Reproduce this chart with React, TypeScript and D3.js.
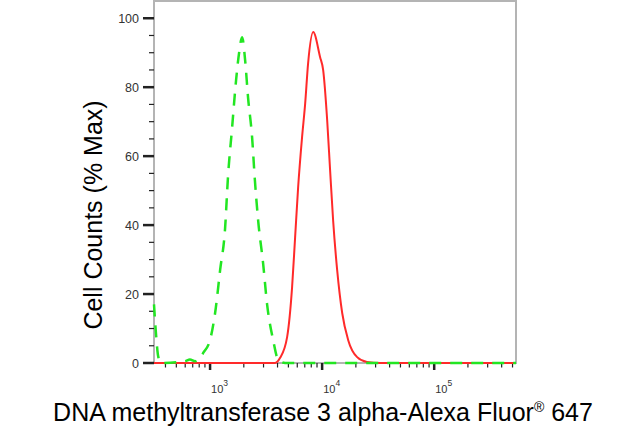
import { useEffect, useRef } from "react";
import * as d3 from "d3";

// fluorescence intensity (linear units) and % of max cell counts
const controlX = [316, 330, 344, 363, 598, 661, 735, 813, 871, 1000, 1109, 1230, 1361, 1445, 1570, 1706, 1816, 1932, 2053, 2183, 2371, 2512, 2692, 2972, 3228, 3652, 4046, 4677, 537000];
const controlY = [17, 8, 2, 0, 0.5, 1, 0.5, 1.5, 3, 6.7, 14.5, 27, 39, 54, 68, 82, 90, 94.5, 88, 77, 65.5, 53, 41, 29, 17, 6.7, 1, 0, 0];

const stainedX = [316, 3802, 4217, 4870, 5395, 5741, 6109, 6622, 7047, 7499, 8318, 9594, 10209, 11092, 11776, 12531, 13614, 15101, 17061, 20535, 25119, 33113, 537000];
const stainedY = [0, 0, 1.5, 7.5, 22, 36.5, 51, 65.5, 75, 87, 96, 88.7, 85, 70.4, 56, 41.4, 27, 14.5, 6.7, 1.7, 0.3, 0, 0];

const yMajorTicks = [0, 20, 40, 60, 80, 100];
const xDecades = [3, 4, 5];

const FONT = "Liberation Sans, Arial, sans-serif";

export default function App() {
  const svgRef = useRef<SVGSVGElement>(null);

  useEffect(() => {
    const svg = d3.select(svgRef.current);
    svg.selectAll("*").remove();

    const width = 640;
    const height = 435;
    const margin = { top: 1, right: 124, bottom: 72, left: 154 };
    const W = width - margin.left - margin.right;
    const H = height - margin.top - margin.bottom;

    svg.attr("width", width).attr("height", height);
    const g = svg.append("g").attr("transform", `translate(${margin.left},${margin.top})`);

    const x = d3.scaleLog().domain([316, 537000]).range([0, W]);
    const y = d3.scaleLinear().domain([0, 105]).range([H, 0]);

    // frame
    g.append("rect")
      .attr("x", 0).attr("y", 0)
      .attr("width", W).attr("height", H)
      .attr("fill", "none")
      .attr("stroke", "#b4b4b4")
      .attr("stroke-width", 2);

    // y ticks: minor every 5, major every 20
    d3.range(0, 101, 5).forEach(v => {
      const major = v % 20 === 0;
      g.append("line")
        .attr("x1", major ? -11 : -5).attr("x2", 0)
        .attr("y1", y(v)).attr("y2", y(v))
        .attr("stroke", "#222")
        .attr("stroke-width", major ? 2.5 : 1.2);
    });
    yMajorTicks.forEach(v => {
      g.append("text")
        .attr("x", -15).attr("y", y(v) + 4.5)
        .attr("text-anchor", "end")
        .attr("font-family", FONT)
        .attr("font-size", 12.5)
        .attr("fill", "#333")
        .text(v);
    });

    // x ticks: minor 2..9 x 10^n, major at decades
    const [d0, d1] = x.domain();
    for (let e = 2; e <= 5; e++) {
      for (let m = 1; m <= 9; m++) {
        const v = m * Math.pow(10, e);
        if (v < d0 || v > d1) continue;
        const major = m === 1;
        g.append("line")
          .attr("x1", x(v)).attr("x2", x(v))
          .attr("y1", H).attr("y2", H + (major ? 7 : 4.5))
          .attr("stroke", "#222")
          .attr("stroke-width", major ? 2.5 : 1.2);
      }
    }
    xDecades.forEach(e => {
      const t = g.append("text")
        .attr("x", x(Math.pow(10, e)) + 1)
        .attr("y", H + 30)
        .attr("text-anchor", "start")
        .attr("font-family", FONT)
        .attr("font-size", 11)
        .attr("fill", "#333");
      t.append("tspan").text("10");
      t.append("tspan").attr("dy", -7).attr("font-size", 8.5).text(e);
    });

    const path = (xs: number[], ys: number[]) =>
      d3.line<[number, number]>()
        .x(d => x(d[0]))
        .y(d => y(d[1]))
        .curve(d3.curveMonotoneX)(xs.map((v, i) => [v, ys[i]] as [number, number]));

    // stained sample (red solid)
    g.append("path")
      .attr("d", path(stainedX, stainedY))
      .attr("fill", "none")
      .attr("stroke", "#ff2a2a")
      .attr("stroke-width", 2);

    // isotype control (green dashed)
    g.append("path")
      .attr("d", path(controlX, controlY))
      .attr("fill", "none")
      .attr("stroke", "#22e622")
      .attr("stroke-width", 2.5)
      .attr("stroke-dasharray", "12,9");

    // axis titles
    svg.append("text")
      .attr("transform", `translate(102,215) rotate(-90)`)
      .attr("text-anchor", "middle")
      .attr("font-family", FONT)
      .attr("font-size", 25)
      .attr("fill", "#000")
      .text("Cell Counts (% Max)");

    const xt = svg.append("text")
      .attr("x", 323).attr("y", 421)
      .attr("text-anchor", "middle")
      .attr("font-family", FONT)
      .attr("font-size", 25)
      .attr("fill", "#000");
    xt.append("tspan").text("DNA methyltransferase 3 alpha-Alexa Fluor");
    xt.append("tspan").attr("dy", -9).attr("font-size", 14).text("®");
    xt.append("tspan").attr("dy", 9).text(" 647");
  }, []);

  return <svg ref={svgRef} style={{ position: "absolute", left: 0, top: 0 }} />;
}
